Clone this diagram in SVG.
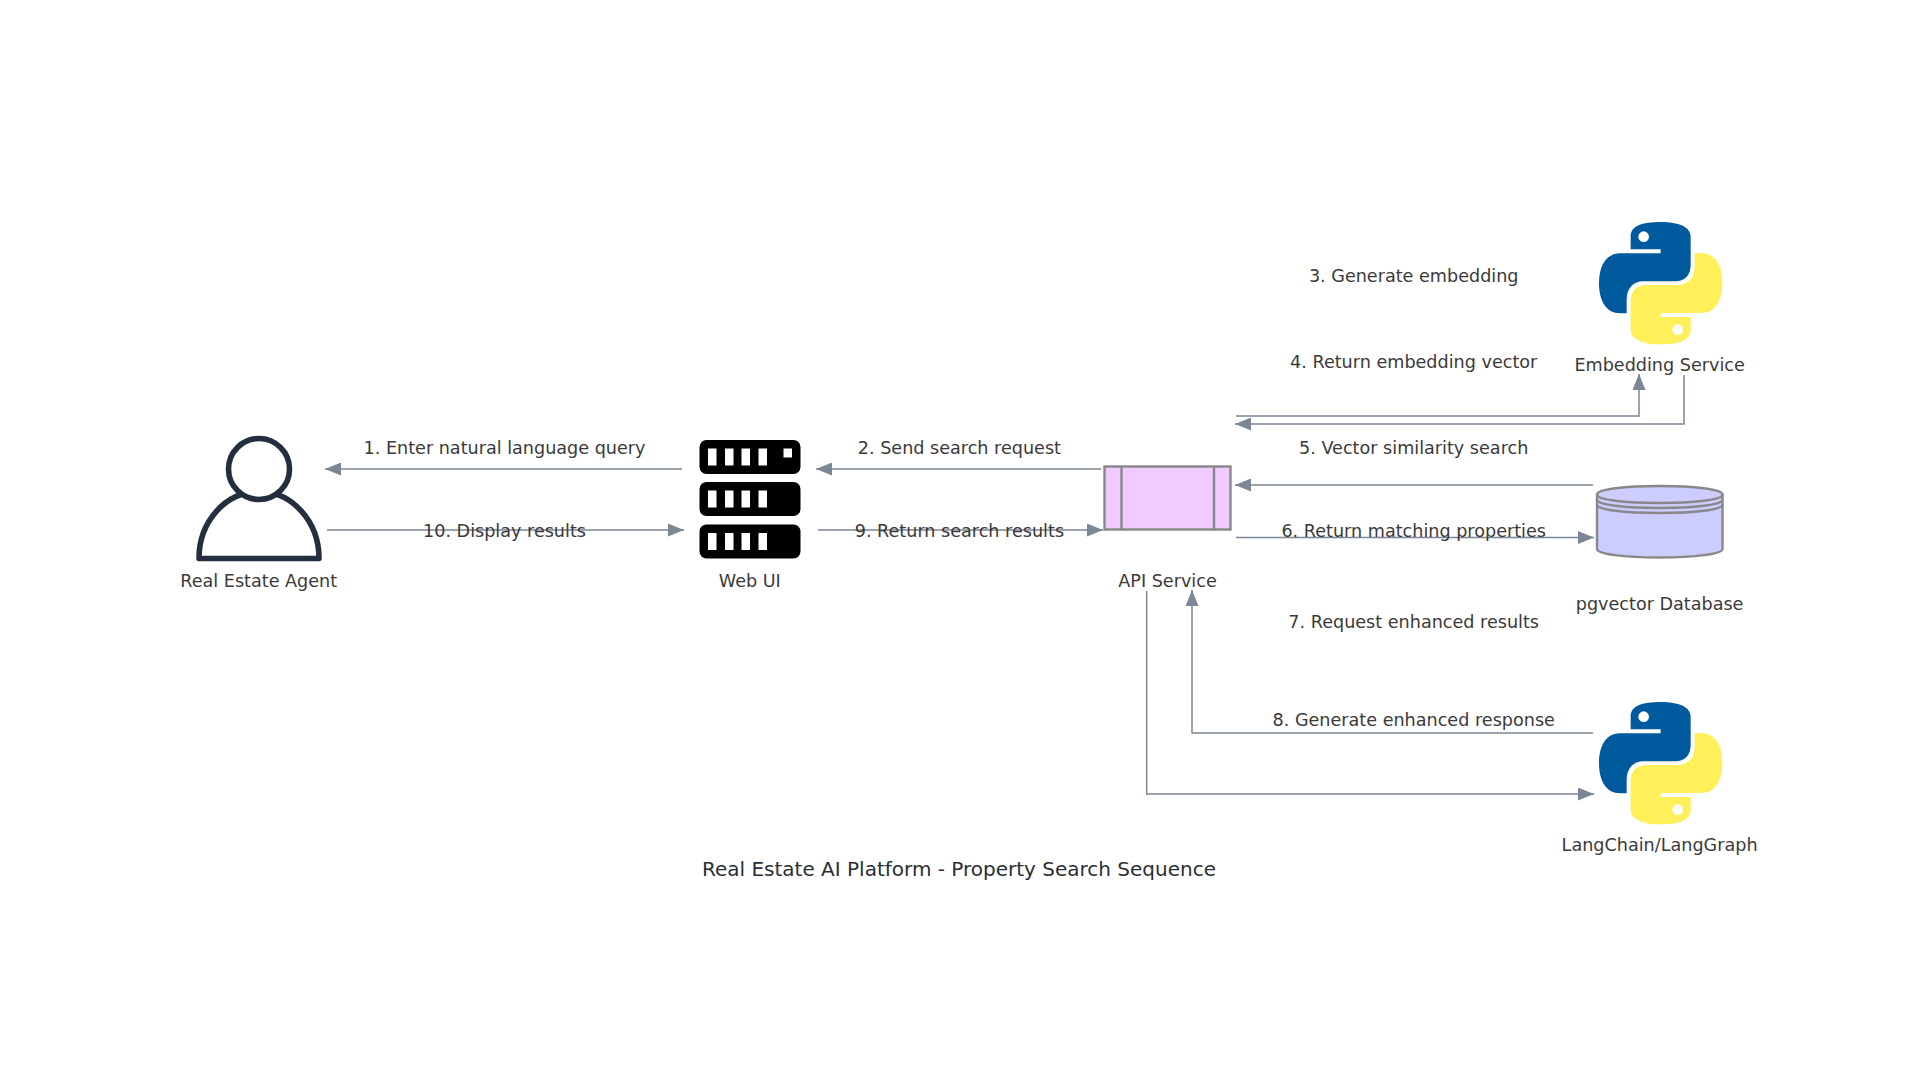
<svg xmlns="http://www.w3.org/2000/svg" xmlns:xlink="http://www.w3.org/1999/xlink" width="1920" height="1080" viewBox="0 0 1920 1080">
<style>
text{font-family:"DejaVu Sans",sans-serif;font-size:17.6px;fill:#3a3a3a;text-anchor:middle}
.title{font-size:20px;fill:#2a2f36}
.c{fill:none;stroke:#7b8794;stroke-width:1.5}
.s{stroke:#888;stroke-width:2.4}
.w{fill:#fff}
</style>
<defs>
<marker id="a" viewBox="0 0 16 13" refX="16" refY="6.500" markerWidth="16" markerHeight="13" markerUnits="userSpaceOnUse" orient="auto"><path d="M0 0L16 6.500L0 13Z" fill="#7b8794"/></marker>
<g id="py" transform="scale(.3333)">
<path fill="#015a9d" d="M272 36C215 36 182 48 182 80V118H272V130H150C110 130 87 165 87 220C87 275 110 310 150 310H170V270C170 235 190 214 220 214H315C345 214 362 195 362 165V80C362 50 325 36 272 36Z"/>
<circle cx="221" cy="80" r="16" class="w"/>
<path fill="#fff05a" transform="rotate(180 272 219.500)" d="M272 36C215 36 182 48 182 80V118H272V130H150C110 130 87 165 87 220C87 275 110 310 150 310H170V270C170 235 190 214 220 214H315C345 214 362 195 362 165V80C362 50 325 36 272 36Z"/>
<circle cx="323" cy="359" r="16" class="w"/>
</g>
</defs>
<rect width="1920" height="1080" fill="#fff"/>
<g id="connectors">
<path class="c" marker-end="url(#a)" d="M682 469H325"/>
<path class="c" marker-end="url(#a)" d="M1101 469H816"/>
<path class="c" marker-end="url(#a)" d="M1236 416H1639V374"/>
<path class="c" marker-end="url(#a)" d="M1684 375V424H1235"/>
<path class="c" marker-end="url(#a)" d="M1593 485H1235"/>
<path class="c" marker-end="url(#a)" d="M1236 537.500H1594"/>
<path class="c" marker-end="url(#a)" d="M1146.700 591V794H1594"/>
<path class="c" marker-end="url(#a)" d="M1593 733H1192V590"/>
<path class="c" marker-end="url(#a)" d="M818 530H1103"/>
<path class="c" marker-end="url(#a)" d="M327 530H684"/>
<text x="504.500" y="453.700">1. Enter natural language query</text>
<text x="959.400" y="453.700">2. Send search request</text>
<text x="1413.700" y="281.700">3. Generate embedding</text>
<text x="1413.700" y="367.700">4. Return embedding vector</text>
<text x="1413.700" y="453.700">5. Vector similarity search</text>
<text x="1413.700" y="536.700">6. Return matching properties</text>
<text x="1413.700" y="627.700">7. Request enhanced results</text>
<text x="1413.700" y="725.700">8. Generate enhanced response</text>
<text x="959.400" y="536.700">9. Return search results</text>
<text x="504.500" y="536.700">10. Display results</text>
</g>
<g id="agent">
<path d="M199 558.500A60 67 0 0 1 319 558.500Z" fill="#fff" stroke="#232f3e" stroke-width="5.600" stroke-linejoin="round"/>
<circle cx="259" cy="469" r="30.500" fill="#fff" stroke="#232f3e" stroke-width="5.600"/>
<text x="258.700" y="586.700">Real Estate Agent</text>
</g>
<g id="webui">
<rect x="699.500" y="440" width="101" height="34" rx="7"/>
<rect x="699.500" y="482" width="101" height="34" rx="7"/>
<rect x="699.500" y="524.500" width="101" height="34" rx="7"/>
<g class="w">
<rect x="708" y="448.500" width="8.500" height="17"/><rect x="725" y="448.500" width="8.500" height="17"/><rect x="741.500" y="448.500" width="8.500" height="17"/><rect x="758.500" y="448.500" width="8.500" height="17"/><rect x="783.500" y="448.500" width="8.500" height="9"/>
<rect x="708" y="490.500" width="8.500" height="17"/><rect x="725" y="490.500" width="8.500" height="17"/><rect x="741.500" y="490.500" width="8.500" height="17"/><rect x="758.500" y="490.500" width="8.500" height="17"/>
<rect x="708" y="533" width="8.500" height="17"/><rect x="725" y="533" width="8.500" height="17"/><rect x="741.500" y="533" width="8.500" height="17"/><rect x="758.500" y="533" width="8.500" height="17"/>
</g>
<text x="749.800" y="586.700">Web UI</text>
</g>
<g id="api">
<rect class="s" x="1104.500" y="466.500" width="126" height="63" fill="#efcbff"/>
<path class="s" fill="none" d="M1121.500 466.500V529.500M1214 466.500V529.500"/>
<text x="1167.500" y="586.700">API Service</text>
</g>
<g id="embedding">
<use href="#py" transform="translate(1570 210)"/>
<text x="1659.600" y="370.700">Embedding Service</text>
</g>
<g id="database">
<path class="s" fill="#ccf" d="M1597 494.500C1597 489 1625 486 1659.500 486S1722.500 489 1722.500 494.500V549C1722.500 554 1695 557.500 1659.500 557.500S1597 554 1597 549Z"/>
<path class="s" fill="none" d="M1597 494.500C1597 500 1625 503 1659.500 503S1722.500 500 1722.500 494.500M1597 499.500C1597 505 1625 508 1659.500 508S1722.500 505 1722.500 499.500M1597 504.500C1597 510 1625 513 1659.500 513S1722.500 510 1722.500 504.500"/>
<text x="1659.600" y="610">pgvector Database</text>
</g>
<g id="langchain">
<use href="#py" transform="translate(1570 690)"/>
<text x="1659.600" y="850.700">LangChain/LangGraph</text>
</g>
<g id="title"><text class="title" x="959" y="876">Real Estate AI Platform - Property Search Sequence</text></g>
</svg>
